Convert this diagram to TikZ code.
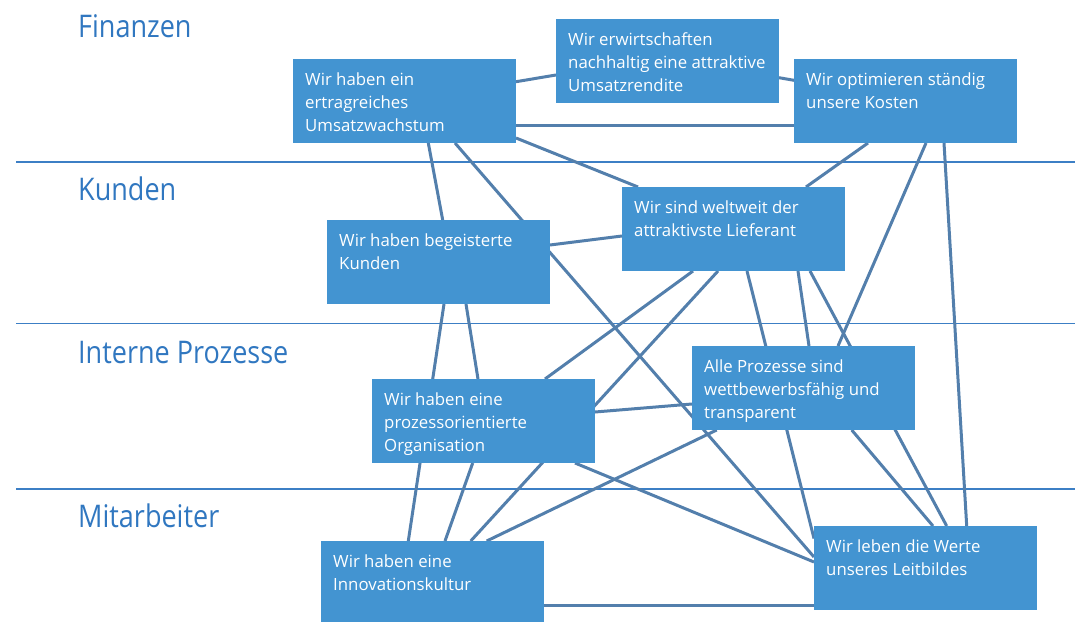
\documentclass[tikz,border=0pt]{standalone}
\usepackage{fontspec}
\newfontfamily\boxfont{Open Sans}
\newfontfamily\labfont[FakeStretch=0.866]{Open Sans}
\usetikzlibrary{calc}
\definecolor{boxblue}{RGB}{67,148,209}
\definecolor{linkblue}{RGB}{83,127,172}
\definecolor{sepblue}{RGB}{60,127,197}
\definecolor{labblue}{RGB}{48,119,192}
\newcommand\bxt[1]{\parbox[c][84pt][t]{199pt}{\raggedright\rule{0pt}{26pt}#1}}
\pgfdeclarelayer{bg}
\pgfsetlayers{bg,main}
\begin{document}
\begin{tikzpicture}[x=1pt,y=-1pt,
  box/.style={fill=boxblue, anchor=north west, inner xsep=12pt, inner ysep=0pt,
    text=white, font=\boxfont\fontsize{16.8pt}{23.3pt}\selectfont},
  lab/.style={anchor=base west, inner sep=0pt, text=labblue,
    font=\labfont\fontsize{31.2pt}{36pt}\selectfont},
  sepline/.style={draw=sepblue, line width=1.8pt},
  link/.style={draw=linkblue, line width=3pt}]
\useasboundingbox (0,0) rectangle (1075,621);

% section labels
\node[lab] (L1) at (78,37.3) {Finanzen};
\node[lab] (L2) at (78,200.8) {Kunden};
\node[lab] (L3) at (78,363.6) {Interne Prozesse};
\node[lab] (L4) at (78,527.7) {Mitarbeiter};

% separators
\coordinate (S1a) at (16,161.7); \coordinate (S1b) at (1075,161.7);
\coordinate (S2a) at (16,323.5); \coordinate (S2b) at (1075,323.5);
\coordinate (S3a) at (16,489.3); \coordinate (S3b) at (1075,489.3);

% boxes
\node[box] (A) at (293,59)  {\bxt{\mbox{Wir haben ein}\\\mbox{ertragreiches}\\\mbox{Umsatzwachstum}}};
\node[box] (B) at (556,19)  {\bxt{\mbox{Wir erwirtschaften}\\\mbox{nachhaltig eine attraktive}\\\mbox{Umsatzrendite}}};
\node[box] (C) at (794,59)  {\bxt{\mbox{Wir optimieren st\"andig}\\\mbox{unsere Kosten}}};
\node[box] (D) at (622,187) {\bxt{\mbox{Wir sind weltweit der}\\\mbox{attraktivste Lieferant}}};
\node[box] (E) at (327,220) {\bxt{\mbox{Wir haben begeisterte}\\\mbox{Kunden}}};
\node[box] (F) at (372,379) {\bxt{\mbox{Wir haben eine}\\\mbox{prozessorientierte}\\\mbox{Organisation}}};
\node[box] (G) at (692,346) {\bxt{\mbox{Alle Prozesse sind}\\\mbox{wettbewerbsf\"ahig und}\\\mbox{transparent}}};
\node[box] (H) at (321,541) {\bxt{\mbox{Wir haben eine}\\\mbox{Innovationskultur}}};
\node[box] (I) at (814,526) {\bxt{\mbox{Wir leben die Werte}\\\mbox{unseres Leitbildes}}};

\begin{pgfonlayer}{bg}
\draw[sepline] (S1a) -- (S1b);
\draw[sepline] (S2a) -- (S2b);
\draw[sepline] (S3a) -- (S3b);

\draw[link] ($(A.north west)+(223,22.7)$) -- ($(B.north west)+(0,56)$);
\draw[link] ($(A.north west)+(223,66.5)$) -- ($(C.north west)+(0,66.5)$);
\draw[link] ($(B.north west)+(223,58.7)$) -- ($(C.north west)+(0,21.3)$);
\draw[link] ($(A.north west)+(223,79)$) -- ($(D.north west)+(16,0)$);
\draw[link] ($(A.north west)+(135.3,84)$) -- ($(E.north west)+(115.7,0)$);
\draw[link] ($(A.north west)+(162,84)$) -- ($(I.north west)+(0,31)$);
\draw[link] ($(C.north west)+(74,84)$) -- ($(D.north west)+(184,0)$);
\draw[link] ($(C.north west)+(132,84)$) -- ($(G.north west)+(146,0)$);
\draw[link] ($(C.north west)+(150,84)$) -- ($(I.north west)+(152.7,0)$);
\draw[link] ($(E.north west)+(223,25)$) -- ($(D.north west)+(0,49)$);
\draw[link] ($(D.north west)+(71,84)$) -- ($(F.north west)+(173,0)$);
\draw[link] ($(D.north west)+(96,84)$) -- ($(H.north west)+(149.7,0)$);
\draw[link] ($(D.north west)+(125,84)$) -- ($(I.north west)+(0,12.5)$);
\draw[link] ($(D.north west)+(176,84)$) -- ($(G.north west)+(117,0)$);
\draw[link] ($(D.north west)+(188,84)$) -- ($(I.north west)+(132.7,0)$);
\draw[link] ($(E.north west)+(117,84)$) -- ($(H.north west)+(87.3,0)$);
\draw[link] ($(E.north west)+(139,84)$) -- ($(F.north west)+(106,0)$);
\draw[link] ($(F.north west)+(223,33)$) -- ($(G.north west)+(0,58)$);
\draw[link] ($(F.north west)+(100.7,84)$) -- ($(H.north west)+(124,0)$);
\draw[link] ($(F.north west)+(203,84)$) -- ($(I.north west)+(0,36)$);
\draw[link] ($(G.north west)+(24.7,84)$) -- ($(H.north west)+(165.7,0)$);
\draw[link] ($(G.north west)+(159.7,84)$) -- ($(I.north west)+(119,0)$);
\draw[link] ($(H.north west)+(223,64)$) -- ($(I.north west)+(0,79)$);
\end{pgfonlayer}
\end{tikzpicture}
\end{document}
